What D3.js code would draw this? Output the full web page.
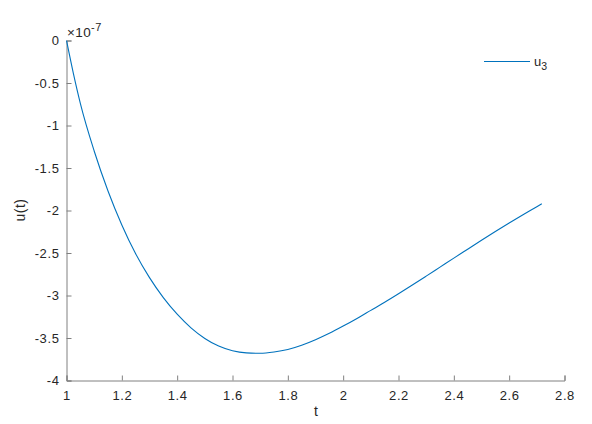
<!DOCTYPE html>
<html><head><meta charset="utf-8">
<script src="https://cdn.jsdelivr.net/npm/d3@7"></script>
<style>body{margin:0;background:#fff}svg{display:block}text{font-family:"Liberation Sans",Arial,sans-serif}</style>
</head><body>
<script>
const tValues = [1.00,1.025,1.05,1.10,1.15,1.20,1.25,1.30,1.35,1.40,1.45,1.50,1.55,1.60,1.65,1.70,1.75,1.80,1.85,1.90,1.95,2.00,2.05,2.10,2.15,2.20,2.25,2.30,2.35,2.40,2.45,2.50,2.55,2.60,2.65,2.70,2.718];
const uValues = [0,-0.39,-0.74,-1.30,-1.77,-2.17,-2.51,-2.79,-3.025,-3.22,-3.38,-3.505,-3.595,-3.65,-3.675,-3.68,-3.665,-3.635,-3.585,-3.52,-3.445,-3.36,-3.27,-3.175,-3.08,-2.98,-2.877,-2.772,-2.666,-2.56,-2.455,-2.35,-2.248,-2.148,-2.05,-1.955,-1.92];
const xTicks = [1,1.2,1.4,1.6,1.8,2,2.2,2.4,2.6,2.8];
const yTicks = [0,-0.5,-1,-1.5,-2,-2.5,-3,-3.5,-4];
const seriesName = "u";
const seriesSub = "3";

const W=592,H=424;
const svg=d3.select("body").append("svg").attr("width",W).attr("height",H);
const x=d3.scaleLinear().domain([1,2.8]).range([66.5,564.5]);
const y=d3.scaleLinear().domain([-4,0]).range([380.5,40.5]);
const axisCol="#808080", textCol="#262626";
const fs="13px", ls="0.6px";

const gx=svg.append("g").attr("transform","translate(0,380.5)")
  .call(d3.axisBottom(x).tickValues(xTicks).tickSize(-5).tickPadding(10).tickFormat(d3.format("")));
const gy=svg.append("g").attr("transform","translate(66.5,0)")
  .call(d3.axisLeft(y).tickValues(yTicks).tickSize(-5).tickPadding(7).tickFormat(d=>d===0?"0":String(d)));
[gx,gy].forEach(g=>{
  g.select(".domain").attr("stroke",axisCol);
  g.selectAll(".tick line").attr("stroke",axisCol);
  g.selectAll(".tick text").attr("fill",textCol).style("font-size",fs).style("letter-spacing",ls)
   .style("font-family","'Liberation Sans',Arial,sans-serif");
});

const line=d3.line().x((d,i)=>x(tValues[i])).y(d=>y(d)).curve(d3.curveMonotoneX);
svg.append("path").datum(uValues).attr("d",line).attr("fill","none").attr("stroke","#0072BD").attr("stroke-width",1.1);

// exponent
const ex=svg.append("text").attr("x",67).attr("y",37).attr("fill",textCol).style("font-size","13.5px").style("letter-spacing","0.4px");
ex.append("tspan").text("\u00d710");
ex.append("tspan").attr("dy",-6).style("font-size","11px").text("-7");

svg.append("text").attr("x",316).attr("y",416).attr("text-anchor","middle").attr("fill",textCol).style("font-size","14px").text("t");
svg.append("text").attr("transform","translate(25,210) rotate(-90)").attr("text-anchor","middle").attr("fill",textCol).style("font-size","14px").style("letter-spacing","0.5px").text("u(t)");

// legend
svg.append("line").attr("x1",484).attr("x2",530).attr("y1",61.5).attr("y2",61.5).attr("stroke","#0072BD").attr("stroke-width",1.1);
const lt=svg.append("text").attr("x",534).attr("y",66).attr("fill",textCol).style("font-size","13px");
lt.append("tspan").text(seriesName);
lt.append("tspan").attr("dy",4).style("font-size","10.5px").text(seriesSub);
</script>
</body></html>
